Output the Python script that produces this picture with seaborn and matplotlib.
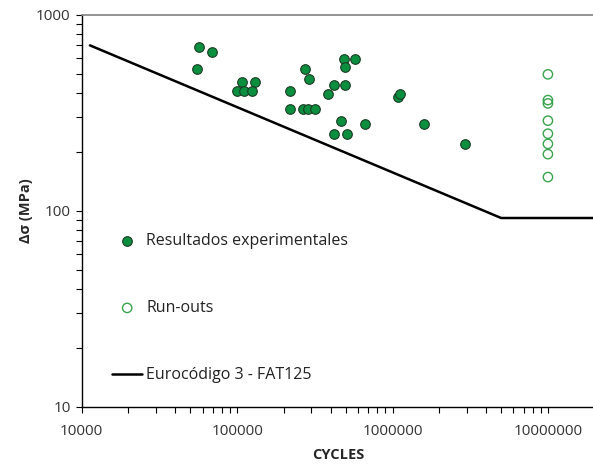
import matplotlib
matplotlib.use("Agg")
import matplotlib.pyplot as plt
import seaborn as sns
import pandas as pd
from matplotlib.ticker import LogLocator, NullFormatter, FixedLocator

# Resultados experimentales (ciclos, rango de tension MPa)
exp_cycles = [57000, 69000, 55000, 108000, 130000, 100000, 111000, 125000,
              220000, 220000, 266000, 284000, 316000, 274000, 290000, 387000,
              423000, 491000, 484000, 491000, 575000, 463000, 423000, 508000,
              670000, 1080000, 1120000, 1600000, 2920000]
exp_stress = [689, 645, 532, 454, 454, 411, 411, 411,
              411, 331, 331, 331, 331, 532, 470, 395,
              441, 441, 594, 545, 594, 289, 248, 248,
              277, 383, 394, 277, 220]

# Run-outs a 10^7 ciclos
runout_cycles = [1e7] * 8
runout_stress = [498, 368, 354, 289, 248, 220, 195, 149]

# Curva Eurocodigo 3 - FAT125
ec3_cycles = [11300, 5e6, 2e7]
ec3_stress = [700, 92.1, 92.1]

df_exp = pd.DataFrame({"N": exp_cycles, "S": exp_stress})
df_run = pd.DataFrame({"N": runout_cycles, "S": runout_stress})
df_ec3 = pd.DataFrame({"N": ec3_cycles, "S": ec3_stress})

sns.set_style("white")
plt.rcParams["font.family"] = ["Open Sans", "DejaVu Sans"]

fig = plt.figure(figsize=(5.93, 4.66), dpi=100)
ax = fig.add_axes([81.7 / 593, 59 / 466, 513 / 593, 392 / 466])

sns.lineplot(data=df_ec3, x="N", y="S", ax=ax, color="black", lw=1.8,
             label="Eurocódigo 3 - FAT125", zorder=2)
sns.scatterplot(data=df_exp, x="N", y="S", ax=ax, color="#0b8f3e",
                edgecolor="#1b3b24", linewidth=0.8, s=48, zorder=3,
                label="Resultados experimentales")
sns.scatterplot(data=df_run, x="N", y="S", ax=ax, facecolor="none",
                edgecolor="#3aa34e", linewidth=1.0, s=45, zorder=3,
                label="Run-outs")

ax.set_xscale("log")
ax.set_yscale("log")
ax.set_xlim(1e4, 2e7)
ax.set_ylim(10, 1000)

ax.xaxis.set_major_locator(FixedLocator([1e4, 1e5, 1e6, 1e7]))
ax.set_xticklabels(["10000", "100000", "1000000", "10000000"])
ax.yaxis.set_major_locator(FixedLocator([10, 100, 1000]))
ax.set_yticklabels(["10", "100", "1000"])
ax.xaxis.set_minor_locator(LogLocator(base=10, subs=range(2, 10), numticks=20))
ax.yaxis.set_minor_locator(LogLocator(base=10, subs=range(2, 10), numticks=20))
ax.xaxis.set_minor_formatter(NullFormatter())
ax.yaxis.set_minor_formatter(NullFormatter())
ax.tick_params(which="both", direction="out", length=4.5, width=0.8,
               color="black", labelsize=11, labelcolor="#333333",
               bottom=True, left=True)
ax.tick_params(axis="x", which="major", pad=8)

for side in ["left", "bottom"]:
    ax.spines[side].set_color("black")
    ax.spines[side].set_linewidth(1.0)
ax.spines["top"].set_color("#808080")
ax.spines["top"].set_linewidth(1.2)
ax.spines["right"].set_visible(False)

ax.set_xlabel("CYCLES", fontsize=10.5, fontweight="bold", labelpad=6)
ax.set_ylabel("Δσ (MPa)", fontsize=10.5, fontweight="bold", labelpad=2)

h, l = ax.get_legend_handles_labels()
order = [l.index("Resultados experimentales"), l.index("Run-outs"),
         l.index("Eurocódigo 3 - FAT125")]
ax.legend([h[i] for i in order], [l[i] for i in order], loc="upper left",
          bbox_to_anchor=(112 / 593, 1 - 233 / 466),
          bbox_transform=fig.transFigure, frameon=False, fontsize=11.5,
          labelspacing=3.2, handlelength=1.9, handletextpad=0.25,
          borderpad=0, borderaxespad=0, labelcolor="#222222")

fig.savefig("out.png", dpi=100)
